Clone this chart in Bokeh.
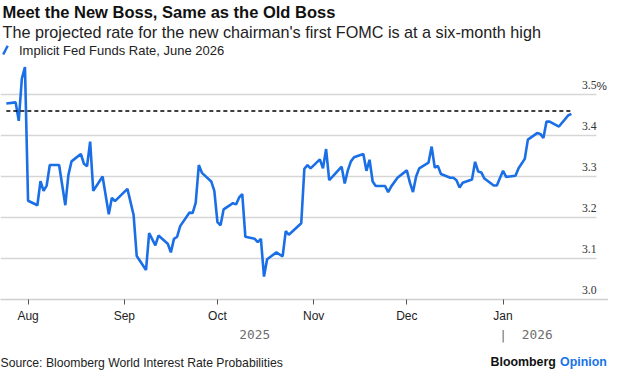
from datetime import datetime, timedelta

from bokeh.plotting import figure
from bokeh.layouts import column
from bokeh.models import (ColumnDataSource, Label, LabelSet, Arrow, FixedTicker,
                          DatetimeTickFormatter, LinearAxis, Range1d)
from bokeh.embed import file_html
from bokeh.resources import INLINE

# ---------------- data ----------------
dates = [
    "2025-07-25", "2025-07-28", "2025-07-29", "2025-07-30", "2025-07-31", "2025-08-01",
    "2025-08-04", "2025-08-05", "2025-08-06", "2025-08-07", "2025-08-08", "2025-08-11",
    "2025-08-13", "2025-08-14", "2025-08-15", "2025-08-18", "2025-08-19", "2025-08-20",
    "2025-08-21", "2025-08-22", "2025-08-25", "2025-08-27", "2025-08-28", "2025-08-29",
    "2025-09-02", "2025-09-04", "2025-09-05", "2025-09-08", "2025-09-09", "2025-09-11",
    "2025-09-12", "2025-09-15", "2025-09-16", "2025-09-17", "2025-09-18", "2025-09-19",
    "2025-09-22", "2025-09-23", "2025-09-24", "2025-09-25", "2025-09-26", "2025-09-29",
    "2025-09-30", "2025-10-01", "2025-10-02", "2025-10-03", "2025-10-06", "2025-10-07",
    "2025-10-08", "2025-10-09", "2025-10-10", "2025-10-13", "2025-10-14", "2025-10-15",
    "2025-10-16", "2025-10-17", "2025-10-20", "2025-10-22", "2025-10-23", "2025-10-24",
    "2025-10-28", "2025-10-29", "2025-10-30", "2025-10-31", "2025-11-03", "2025-11-04",
    "2025-11-05", "2025-11-06", "2025-11-07", "2025-11-10", "2025-11-11", "2025-11-12",
    "2025-11-13", "2025-11-14", "2025-11-17", "2025-11-18", "2025-11-19", "2025-11-20",
    "2025-11-21", "2025-11-24", "2025-11-25", "2025-11-26", "2025-11-28", "2025-12-01",
    "2025-12-02", "2025-12-03", "2025-12-04", "2025-12-05", "2025-12-08", "2025-12-09",
    "2025-12-10", "2025-12-11", "2025-12-12", "2025-12-15", "2025-12-16", "2025-12-17",
    "2025-12-18", "2025-12-19", "2025-12-22", "2025-12-23", "2025-12-24", "2025-12-25",
    "2025-12-26", "2025-12-29", "2025-12-30", "2026-01-01", "2026-01-02", "2026-01-05",
    "2026-01-06", "2026-01-08", "2026-01-09", "2026-01-12", "2026-01-13", "2026-01-14",
    "2026-01-15", "2026-01-16", "2026-01-19", "2026-01-22", "2026-01-23",
]
rates = [
    3.478, 3.481, 3.436, 3.539, 3.567, 3.241,
    3.230, 3.289, 3.265, 3.278, 3.328, 3.328,
    3.230, 3.304, 3.337, 3.355, 3.331, 3.325,
    3.385, 3.265, 3.300, 3.208, 3.248, 3.240,
    3.270, 3.206, 3.106, 3.072, 3.162, 3.132,
    3.156, 3.136, 3.115, 3.148, 3.153, 3.179,
    3.212, 3.211, 3.236, 3.328, 3.309, 3.288,
    3.265, 3.189, 3.181, 3.220, 3.235, 3.232,
    3.249, 3.257, 3.153, 3.148, 3.140, 3.148,
    3.056, 3.098, 3.115, 3.105, 3.167, 3.158,
    3.186, 3.319, 3.328, 3.320, 3.342, 3.320,
    3.367, 3.291, 3.299, 3.324, 3.283, 3.315,
    3.337, 3.347, 3.355, 3.314, 3.341, 3.288,
    3.277, 3.277, 3.262, 3.276, 3.297, 3.315,
    3.285, 3.262, 3.300, 3.320, 3.334, 3.373,
    3.322, 3.326, 3.306, 3.297, 3.297, 3.291,
    3.273, 3.285, 3.293, 3.336, 3.312, 3.310,
    3.295, 3.278, 3.278, 3.314, 3.299, 3.302,
    3.320, 3.343, 3.390, 3.406, 3.404, 3.394,
    3.434, 3.434, 3.422, 3.449, 3.453,
]
prior_high = 3.46
y_ticks = [3.0, 3.1, 3.2, 3.3, 3.4, 3.5]
y_tick_labels = ["3.0", "3.1", "3.2", "3.3", "3.4", "3.5"]
month_ticks = ["2025-08-01", "2025-09-01", "2025-10-01", "2025-11-01", "2025-12-01", "2026-01-01"]
year_labels = ["2025", "2026"]
year_start = "2026-01-01"

title = "Meet the New Boss, Same as the Old Boss"
subtitle = "The projected rate for the new chairman's first FOMC is at a six-month high"
series_name = "Implicit Fed Funds Rate, June 2026"
source = "Source: Bloomberg World Interest Rate Probabilities"

# ---------------- helpers ----------------
EPOCH = datetime(1970, 1, 1)


def ms(s):
    d = datetime.strptime(s, "%Y-%m-%d") if isinstance(s, str) else s
    return round((d - EPOCH).total_seconds() * 1000.0)


dt = [datetime.strptime(d, "%Y-%m-%d") for d in dates]

BLUE = "#1a6fe6"
FONT = "Liberation Sans"
W = 608
MAIN_H = 344
FOOT_H = 370 - MAIN_H
FRAME_BOTTOM = 302           # frame spans 0..302 px from the top of the main figure
GRID_RIGHT = 596             # right end of gridlines / tick labels
PX_PER_TENTH = 41.4          # vertical pixels per 0.1 percentage point

aug1 = datetime(2025, 8, 1)
x_start = aug1 - timedelta(days=8.88)
x_end = aug1 + timedelta(days=186.97)
y_end = 3.0 + 0.1 * FRAME_BOTTOM / PX_PER_TENTH

p = figure(width=W, height=MAIN_H, x_axis_type="datetime", y_axis_location=None,
           output_backend="svg", toolbar_location=None, title=None,
           x_range=Range1d(x_start, x_end), y_range=Range1d(3.0, y_end),
           min_border_left=0, min_border_right=0, min_border_top=0,
           min_border_bottom=MAIN_H - FRAME_BOTTOM)
p.outline_line_color = None
p.background_fill_color = "white"
p.border_fill_color = "white"

p.xgrid.visible = False
g = p.ygrid[0]
g.ticker = FixedTicker(ticks=y_ticks[1:])
g.grid_line_color = "#d6d6d6"
g.grid_line_width = 1.3
if "cross_bounds" in g.properties():
    g.cross_bounds = (ms(x_start), ms(x_start) + (ms(x_end) - ms(x_start)) * GRID_RIGHT / W)

ax = p.xaxis[0]
ax.ticker = FixedTicker(ticks=[ms(m) for m in month_ticks])
ax.formatter = DatetimeTickFormatter(days="%b", months="%b", years="%b")
ax.axis_line_color = "#cfcfcf"
ax.axis_line_width = 1.5
ax.major_tick_line_color = "#555555"
ax.major_tick_out = 5
ax.major_tick_in = 0
ax.minor_tick_line_color = None
ax.major_label_standoff = 4
ax.major_label_text_font = FONT
ax.major_label_text_font_size = "12px"
ax.major_label_text_color = "#222222"

# second row of the time axis: years, with a divider at the year boundary
first_ms, boundary_ms, last_ms = ms(dt[0]), ms(year_start), ms(dt[-1])
mid25 = round((first_ms + boundary_ms) / 2)
mid26 = round((boundary_ms + last_ms) / 2)
yax = LinearAxis(ticker=FixedTicker(ticks=[mid25, boundary_ms, mid26]),
                 major_label_overrides={mid25: year_labels[0], boundary_ms: "|",
                                        mid26: year_labels[1]})
yax.axis_line_color = None
yax.major_tick_line_color = None
yax.minor_tick_line_color = None
yax.major_tick_out = 0
yax.major_tick_in = 0
yax.major_label_standoff = 1
yax.major_label_text_font = "DejaVu Sans Mono"
yax.major_label_text_font_size = "12.8px"
yax.major_label_text_color = "#6e6e6e"
p.add_layout(yax, "below")

# ---------------- marks ----------------
p.line(dt, rates, line_color=BLUE, line_width=2.6)
p.line([dt[0], dt[-1]], [prior_high, prior_high], line_color="black",
       line_width=1.4, line_dash="4 3")

# y tick labels, sitting above their gridlines at the right edge
ysrc = ColumnDataSource(dict(y=y_ticks, text=y_tick_labels))
p.add_layout(LabelSet(x=GRID_RIGHT, y="y", text="text", source=ysrc, x_units="screen",
                      y_units="data", y_offset=9.5, text_align="right",
                      text_baseline="middle", text_font=FONT,
                      text_font_size="11.7px", text_color="#333333"))
p.add_layout(Label(x=GRID_RIGHT, y=y_ticks[-1], text="%", x_units="screen", y_units="data",
                   y_offset=9.5, text_align="left", text_baseline="middle",
                   text_font=FONT, text_font_size="11.7px", text_color="#333333"))


def top_label(fig, bottom, x, y_from_top, text, **kw):
    args = dict(text_font=FONT, text_color="#111111")
    args.update(kw)
    fig.add_layout(Label(x=x, y=bottom - y_from_top, text=text,
                         x_units="screen", y_units="screen", **args))


# title / subtitle / legend (inside the frame's empty head room)
top_label(p, FRAME_BOTTOM, 2, 14.0, title, text_font_size="16.5px",
          text_font_style="bold", text_baseline="alphabetic")
top_label(p, FRAME_BOTTOM, 2, 34.5, subtitle, text_font_size="16.2px",
          text_baseline="alphabetic", text_color="#222222")
p.add_layout(Arrow(end=None, x_start=2.7, y_start=FRAME_BOTTOM - 57.0, x_end=7.2,
                   y_end=FRAME_BOTTOM - 48.2, start_units="screen", end_units="screen",
                   line_color=BLUE, line_width=2.5))
top_label(p, FRAME_BOTTOM, 18.5, 52.6, series_name, text_font_size="13px",
          text_baseline="middle", text_color="#222222")

# ---------------- footer ----------------
f = figure(width=W, height=FOOT_H, x_range=Range1d(0, W), y_range=Range1d(0, FOOT_H),
           x_axis_location=None, y_axis_location=None, output_backend="svg",
           toolbar_location=None, title=None, min_border=0)
f.outline_line_color = None
f.xgrid.visible = False
f.ygrid.visible = False
top_label(f, FOOT_H, 0, 362.0 - MAIN_H, source, text_font_size="12.2px",
          text_baseline="middle", text_color="#222222")
top_label(f, FOOT_H, 555.4, 361.5 - MAIN_H, "Bloomberg", text_font_size="12.4px",
          text_font_style="bold", text_baseline="middle", text_align="right")
top_label(f, FOOT_H, 559.5, 361.5 - MAIN_H, "Opinion", text_font_size="12.4px",
          text_font_style="bold", text_baseline="middle", text_align="left",
          text_color="#1a73e8")

layout = column(p, f, spacing=0)
open("out.html", "w").write(file_html(layout, INLINE))
